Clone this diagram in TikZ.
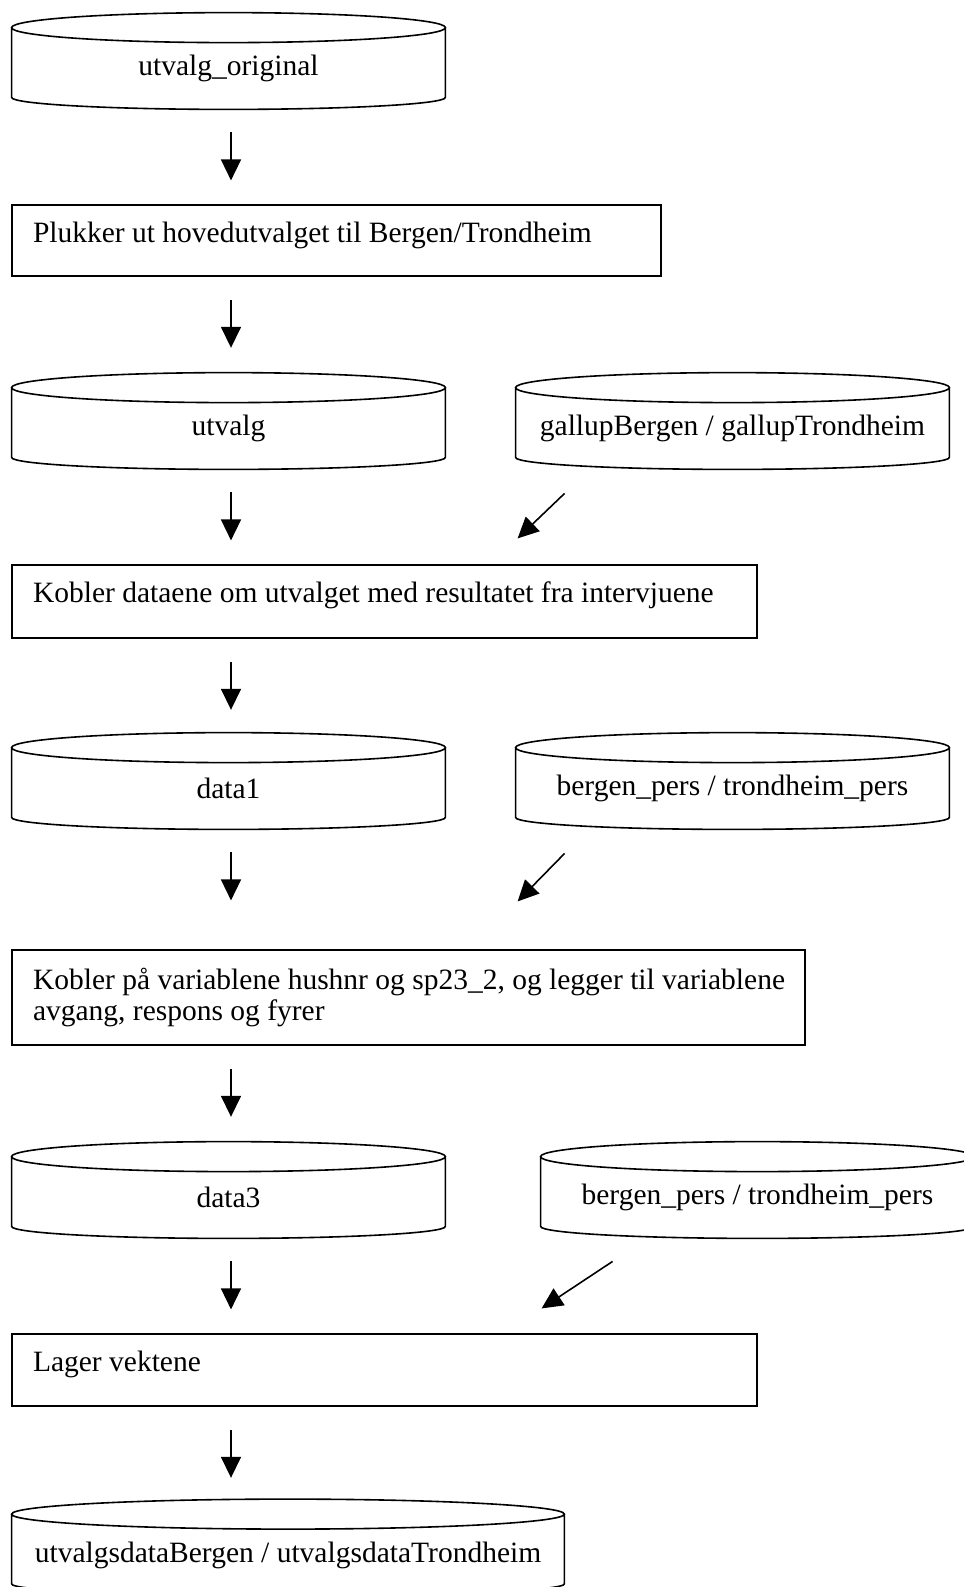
\documentclass[tikz,border=0pt]{standalone}
\usepackage{fontspec}
\setmainfont{Liberation Serif}
\usetikzlibrary{arrows.meta,calc}

\begin{document}
\begin{tikzpicture}[x=0.5pt,y=-0.5pt,
    font=\fontsize{14.75pt}{15.8pt}\selectfont,
    dbase/.style={minimum width=#1, minimum height=40.5pt, inner sep=0pt},
    dbase/.default=216.5pt,
    procbox/.style={draw, line width=0.8pt, text width=#1, align=flush left,
      inner xsep=10.5pt, inner ysep=0pt},
    flow/.style={-{Triangle[width=10pt,length=10.5pt]}, line width=0.8pt}]
  \useasboundingbox (0,0) rectangle (964,1587);
  \coordinate (axis) at (231,0);
  % databases
  \node[dbase] (orig) at (228.5,68.5) {utvalg\_original};
  \node[dbase] (utv) at (228.5,428.5) {utvalg};
  \node[dbase] (gal) at (732.5,428.5) {gallupBergen / gallupTrondheim};
  \node[dbase] (d1) at (228.5,788.5) {data1};
  \node[dbase] (bp1) at (732.5,788.5) {bergen\_pers / trondheim\_pers};
  \node[dbase] (d3) at (228.5,1197.5) {data3};
  \node[dbase] (bp2) at (757.5,1197.5) {bergen\_pers / trondheim\_pers};
  \node[dbase=276pt] (ut) at (288,1555) {utvalgsdataBergen / utvalgsdataTrondheim};
  % steps
  \node[procbox=303.5pt, minimum height=35.5pt, text depth=8pt] (plukk) at (336.5,240.5)
    {Plukker ut hovedutvalget til Bergen/Trondheim};
  \node[procbox=351.5pt, minimum height=36.5pt, text depth=9pt] (kob1) at (384.5,601.5)
    {Kobler dataene om utvalget med resultatet fra intervjuene};
  \node[procbox=375.5pt, minimum height=47.5pt] (kob2) at (408.5,997.5)
    {\mbox{Kobler på variablene hushnr og sp23\_2, og legger til variablene}\\avgang, respons og fyrer};
  \node[procbox=351.5pt, minimum height=36pt, text depth=9pt] (lager) at (384.5,1370)
    {Lager vektene};
  % cylinder outlines
  \foreach \cyl in {orig,utv,gal,d1,bp1,d3,bp2,ut}
    \draw[line width=0.8pt] let \p1=(\cyl.west), \p2=(\cyl.east) in
      (\cyl.north) ellipse [x radius={(\x2-\x1)/2}, y radius=7.5pt]
      (\cyl.north west) -- ([yshift=6pt]\cyl.south west)
      arc [start angle=180, end angle=360, x radius={(\x2-\x1)/2}, y radius=6pt]
      -- (\cyl.north east);
  % arrows
  \foreach \a in {orig,plukk,utv,kob1,d1,kob2,d3,lager}
    \draw[flow] ([yshift=-11.5pt]\a.south -| axis) -- ++(0,48);
  \draw[flow] ([shift={(49,24)}]gal.south west) -- ++(-47,45);
  \draw[flow] ([shift={(49,24)}]bp1.south west) -- ++(-47,48);
  \draw[flow] ([shift={(72,23)}]bp2.south west) -- ++(-71,47);
\end{tikzpicture}
\end{document}
